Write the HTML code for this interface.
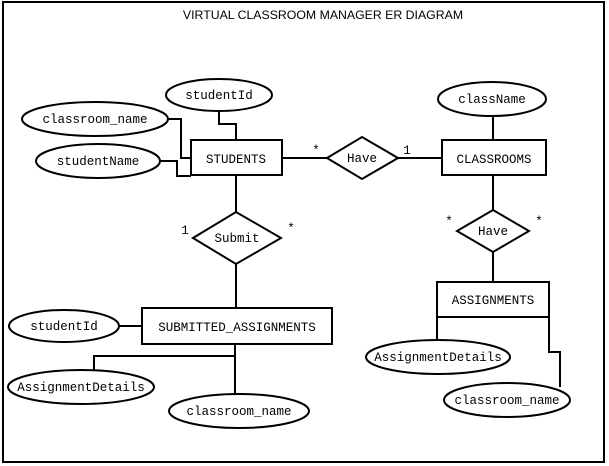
<!DOCTYPE html>
<html><head><style>html,body{margin:0;padding:0;background:#fff}svg{display:block}
text{font-family:"Liberation Mono",monospace;font-size:12.5px;fill:#000}
.t{font-family:"Liberation Sans",sans-serif;font-size:12.3px}</style></head><body>
<svg width="609" height="466" viewBox="0 0 609 466" xmlns="http://www.w3.org/2000/svg">
<rect x="3" y="2" width="601" height="460" fill="none" stroke="#000" stroke-width="2"/>
<text class="t" x="323" y="19" text-anchor="middle">VIRTUAL CLASSROOM MANAGER ER DIAGRAM</text>
<g fill="none" stroke="#000" stroke-width="2">
<rect x="191" y="140" width="91" height="35" fill="#fff"/>
<rect x="442" y="140" width="104" height="35"/>
<rect x="437" y="282" width="112" height="35"/>
<rect x="142" y="308" width="190" height="36"/>
<ellipse cx="219" cy="95" rx="53" ry="16"/>
<ellipse cx="95" cy="119" rx="73" ry="17"/>
<ellipse cx="98" cy="161" rx="62" ry="17"/>
<ellipse cx="492" cy="99" rx="54" ry="17"/>
<ellipse cx="438" cy="357" rx="72" ry="17"/>
<ellipse cx="507" cy="400" rx="63" ry="17"/>
<ellipse cx="64" cy="326" rx="55" ry="16"/>
<ellipse cx="81" cy="387" rx="73" ry="17"/>
<ellipse cx="239" cy="411" rx="70" ry="17"/>
<polygon points="327,158 362,137 398,158 362,179"/>
<polygon points="457,231 493,210 529,231 493,252"/>
<polygon points="193,238 236,212 281,238 236,264"/>
<polyline points="219,111 219,124 236,124 236,140"/>
<polyline points="168,119 181,119 181,158 191,158"/>
<polyline points="160,161 177,161 177,176 191,176"/>
<line x1="282" y1="158" x2="327" y2="158"/>
<line x1="398" y1="158" x2="442" y2="158"/>
<line x1="493" y1="116" x2="493" y2="140"/>
<line x1="493" y1="175" x2="493" y2="210"/>
<line x1="493" y1="252" x2="493" y2="282"/>
<line x1="437" y1="317" x2="437" y2="340"/>
<polyline points="549,317 549,352 560,352 560,387"/>
<line x1="236" y1="175" x2="236" y2="212"/>
<line x1="236" y1="264" x2="236" y2="308"/>
<line x1="119" y1="326" x2="142" y2="326"/>
<polyline points="94,370 94,356 235,356"/>
<line x1="235" y1="344" x2="235" y2="394"/>
</g>
<text x="236" y="163" text-anchor="middle">STUDENTS</text>
<text x="494" y="163" text-anchor="middle">CLASSROOMS</text>
<text x="493" y="304" text-anchor="middle">ASSIGNMENTS</text>
<text x="237" y="331" text-anchor="middle">SUBMITTED_ASSIGNMENTS</text>
<text x="219" y="99" text-anchor="middle">studentId</text>
<text x="95" y="123" text-anchor="middle">classroom_name</text>
<text x="98" y="165" text-anchor="middle">studentName</text>
<text x="492" y="103" text-anchor="middle">className</text>
<text x="438" y="361" text-anchor="middle">AssignmentDetails</text>
<text x="507" y="404" text-anchor="middle">classroom_name</text>
<text x="64" y="330" text-anchor="middle">studentId</text>
<text x="81" y="391" text-anchor="middle">AssignmentDetails</text>
<text x="239" y="415" text-anchor="middle">classroom_name</text>
<text x="362" y="162" text-anchor="middle">Have</text>
<text x="493" y="235" text-anchor="middle">Have</text>
<text x="237" y="242" text-anchor="middle">Submit</text>
<text x="316" y="154" text-anchor="middle">*</text>
<text x="407" y="154" text-anchor="middle">1</text>
<text x="449" y="225" text-anchor="middle">*</text>
<text x="539" y="225" text-anchor="middle">*</text>
<text x="185" y="234" text-anchor="middle">1</text>
<text x="291" y="232" text-anchor="middle">*</text>
</svg></body></html>
